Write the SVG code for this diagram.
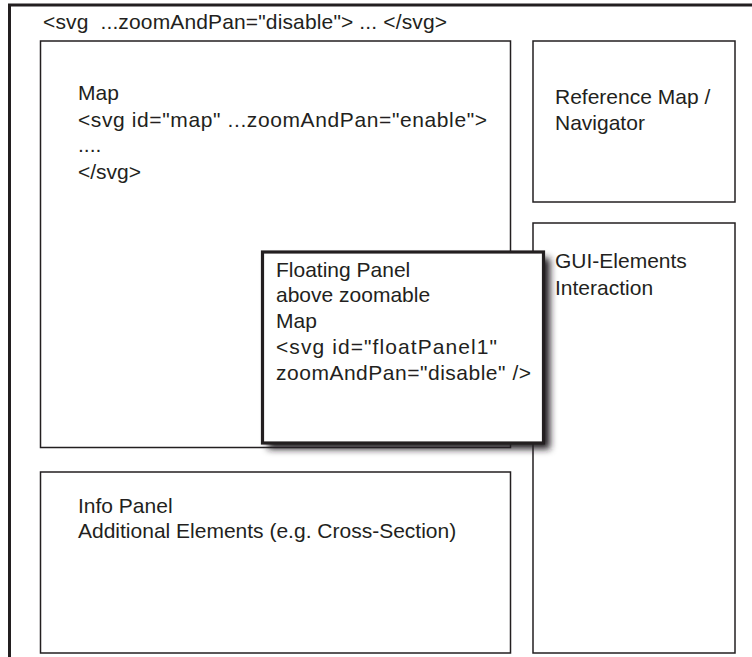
<svg xmlns="http://www.w3.org/2000/svg" width="752" height="657" viewBox="0 0 752 657">
<style>
.box{fill:#fff;stroke:#231f20;stroke-width:1.5}
.frame{fill:none;stroke:#231f20;stroke-width:3}
.t{font-family:"Liberation Sans",Arial,sans-serif;font-size:21px;fill:#231f20}
.panel{fill:#fff;stroke:#231f20;stroke-width:3.2}
</style>
<defs>
<filter id="shadow" x="-10%" y="-10%" width="130%" height="130%">
<feGaussianBlur stdDeviation="3.5"/>
</filter>
</defs>
<rect width="752" height="657" fill="#fff"/>
<g id="outer">
<path class="frame" d="M9.5,657 V5 H752"/>
<text class="t" x="43" y="29" textLength="404" lengthAdjust="spacing">&lt;svg&#160; ...zoomAndPan="disable"&gt; ... &lt;/svg&gt;</text>
</g>
<g id="map">
<rect class="box" x="40.5" y="41" width="470" height="406.5"/>
<text class="t" x="78" y="100">Map</text>
<text class="t" x="78" y="127" textLength="409" lengthAdjust="spacing">&lt;svg id="map" ...zoomAndPan="enable"&gt;</text>
<text class="t" x="78" y="152">....</text>
<text class="t" x="78" y="179">&lt;/svg&gt;</text>
</g>
<g id="reference">
<rect class="box" x="533" y="41" width="202" height="161"/>
<text class="t" x="555" y="104">Reference Map /</text>
<text class="t" x="555" y="130">Navigator</text>
</g>
<g id="gui">
<rect class="box" x="533" y="223" width="202" height="430"/>
<text class="t" x="555" y="268">GUI-Elements</text>
<text class="t" x="555" y="295">Interaction</text>
</g>
<g id="info">
<rect class="box" x="40.5" y="472" width="470" height="181"/>
<text class="t" x="78" y="513">Info Panel</text>
<text class="t" x="78" y="538">Additional Elements (e.g. Cross-Section)</text>
</g>
<g id="floatPanel">
<rect x="268" y="258" width="282" height="191" fill="#231f20" filter="url(#shadow)"/>
<rect class="panel" x="262.5" y="252" width="281" height="191"/>
<text class="t" x="276" y="277">Floating Panel</text>
<text class="t" x="276" y="302">above zoomable</text>
<text class="t" x="276" y="328">Map</text>
<text class="t" x="276" y="354" textLength="221" lengthAdjust="spacing">&lt;svg id="floatPanel1"</text>
<text class="t" x="276" y="380" textLength="255" lengthAdjust="spacing">zoomAndPan="disable" /&gt;</text>
</g>
<g id="connectors"></g>
</svg>
